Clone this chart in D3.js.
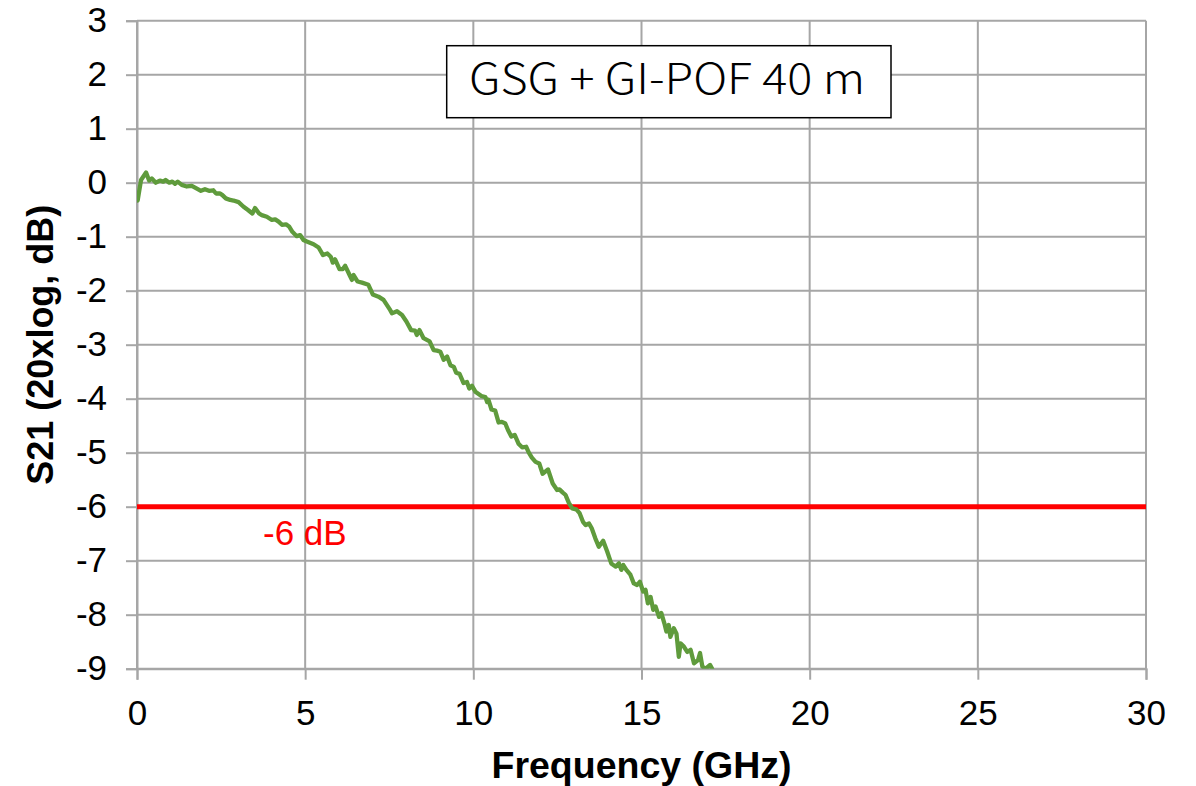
<!DOCTYPE html>
<html>
<head>
<meta charset="utf-8">
<script src="https://cdn.jsdelivr.net/npm/d3@7"></script>
<style>
  html, body { margin: 0; padding: 0; background: #fff; }
  svg { display: block; }
</style>
</head>
<body>
<svg id="chart" width="1196" height="786"></svg>
<script>
// ---- data ----
const freqGHz = [0.02,0.12,0.27,0.36,0.44,0.56,0.68,0.78,0.85,0.96,1.05,1.13,1.21,1.33,1.48,1.63,1.78,1.90,2.02,2.14,2.27,2.35,2.47,2.54,2.64,2.77,2.87,3.02,3.16,3.31,3.43,3.51,3.63,3.71,3.86,4.01,4.11,4.21,4.31,4.43,4.52,4.62,4.75,4.85,4.95,5.05,5.25,5.40,5.53,5.66,5.76,5.82,5.89,6.02,6.12,6.19,6.32,6.39,6.44,6.56,6.69,6.88,7.01,7.18,7.33,7.53,7.58,7.73,7.88,8.01,8.15,8.27,8.32,8.40,8.52,8.70,8.82,8.92,9.02,9.12,9.22,9.32,9.42,9.49,9.59,9.71,9.81,9.88,9.96,10.06,10.24,10.36,10.41,10.45,10.54,10.65,10.75,10.85,10.95,11.03,11.13,11.23,11.35,11.45,11.57,11.65,11.74,11.85,11.96,12.06,12.14,12.22,12.29,12.36,12.49,12.56,12.66,12.74,12.84,12.94,13.06,13.16,13.26,13.34,13.44,13.52,13.63,13.73,13.86,13.98,14.10,14.23,14.33,14.40,14.46,14.55,14.67,14.77,14.87,14.95,15.05,15.12,15.19,15.27,15.35,15.42,15.52,15.59,15.68,15.74,15.81,15.86,15.96,16.04,16.11,16.16,16.26,16.36,16.46,16.56,16.68,16.74,16.81,16.91,17.04,17.10];
const s21dB = [-0.33,0.05,0.19,0.04,0.08,0.00,0.04,0.02,0.05,0.00,0.02,-0.02,0.02,-0.04,-0.07,-0.06,-0.11,-0.15,-0.12,-0.15,-0.14,-0.20,-0.20,-0.23,-0.29,-0.32,-0.33,-0.36,-0.44,-0.51,-0.57,-0.47,-0.57,-0.60,-0.63,-0.69,-0.68,-0.72,-0.78,-0.77,-0.81,-0.91,-0.99,-0.97,-1.06,-1.09,-1.14,-1.20,-1.34,-1.31,-1.37,-1.48,-1.42,-1.60,-1.60,-1.54,-1.71,-1.80,-1.71,-1.83,-1.85,-1.89,-2.07,-2.11,-2.17,-2.36,-2.42,-2.38,-2.45,-2.57,-2.73,-2.74,-2.82,-2.73,-2.88,-2.94,-3.10,-3.11,-3.13,-3.28,-3.22,-3.38,-3.41,-3.52,-3.54,-3.71,-3.69,-3.81,-3.76,-3.87,-3.95,-3.97,-4.06,-4.02,-4.20,-4.22,-4.44,-4.43,-4.46,-4.58,-4.70,-4.67,-4.84,-4.90,-4.89,-5.00,-5.09,-5.17,-5.20,-5.39,-5.35,-5.31,-5.44,-5.57,-5.69,-5.68,-5.74,-5.78,-5.93,-6.03,-6.05,-6.12,-6.28,-6.34,-6.31,-6.40,-6.59,-6.74,-6.63,-6.83,-7.05,-7.11,-7.05,-7.17,-7.08,-7.17,-7.26,-7.42,-7.45,-7.39,-7.57,-7.54,-7.79,-7.67,-7.91,-7.85,-8.04,-7.97,-8.16,-8.31,-8.19,-8.41,-8.25,-8.35,-8.78,-8.53,-8.59,-8.69,-8.65,-8.90,-8.84,-8.71,-8.96,-9.00,-8.93,-9.00];
const xTicks = [0, 5, 10, 15, 20, 25, 30];
const yTicks = [3, 2, 1, 0, -1, -2, -3, -4, -5, -6, -7, -8, -9];
const xDomain = [0, 30];
const yDomain = [-9, 3];
const thresholdDB = -6;
const thresholdLabel = "-6 dB";
const boxLabel = "GSG + GI-POF 40 m";
const xTitle = "Frequency (GHz)";
const yTitle = "S21 (20xlog, dB)";

// ---- layout ----
const L = 137, R = 1146, T = 20.7, B = 668.7;
const svg = d3.select("#chart");
const x = d3.scaleLinear().domain(xDomain).range([L, R]);
const y = d3.scaleLinear().domain(yDomain).range([B, T]);
const grid = "#a6a6a6";
const font = "'Liberation Sans', Arial, sans-serif";
const tickFont = 35;

// gridlines
svg.append("g").selectAll("line.h").data(yTicks).join("line")
  .attr("x1", L).attr("x2", R).attr("y1", d => y(d)).attr("y2", d => y(d))
  .attr("stroke", grid).attr("stroke-width", 2);
svg.append("g").selectAll("line.v").data(xTicks).join("line")
  .attr("x1", d => x(d)).attr("x2", d => x(d)).attr("y1", T).attr("y2", B)
  .attr("stroke", grid).attr("stroke-width", 2);

// axes
const xAxis = d3.axisBottom(x).tickValues(xTicks).tickSize(11).tickPadding(20).tickFormat(d3.format("d"));
const gx = svg.append("g").attr("transform", `translate(0,${B})`).call(xAxis);
gx.select(".domain").attr("stroke", grid).attr("stroke-width", 2);
gx.selectAll(".tick line").attr("stroke", grid).attr("stroke-width", 2);
gx.selectAll(".tick text").attr("font-family", font).attr("font-size", tickFont).attr("fill", "#000");

const yAxis = d3.axisLeft(y).tickValues(yTicks).tickSize(11).tickPadding(19).tickFormat(d3.format("d"));
const gy = svg.append("g").attr("transform", `translate(${L},0)`).call(yAxis);
gy.select(".domain").attr("stroke", grid).attr("stroke-width", 2);
gy.selectAll(".tick line").attr("stroke", grid).attr("stroke-width", 2);
gy.selectAll(".tick text").attr("font-family", font).attr("font-size", tickFont).attr("fill", "#000")
  .text(d => d < 0 ? "-" + Math.abs(d) : d);

// clip
svg.append("clipPath").attr("id", "clip").append("rect")
  .attr("x", L).attr("y", T - 3).attr("width", R - L).attr("height", B - T + 3);

// threshold line
svg.append("line")
  .attr("x1", x(xDomain[0])).attr("x2", x(xDomain[1]))
  .attr("y1", y(thresholdDB)).attr("y2", y(thresholdDB))
  .attr("stroke", "#ff0000").attr("stroke-width", 5);

// data line
const pts = freqGHz.map((f, i) => [f, s21dB[i]]);
svg.append("path").datum(pts)
  .attr("clip-path", "url(#clip)")
  .attr("fill", "none").attr("stroke", "#5f9b3c").attr("stroke-width", 4.3)
  .attr("stroke-linejoin", "round").attr("stroke-linecap", "round")
  .attr("d", d3.line().x(d => x(d[0])).y(d => y(d[1])));

// threshold label
svg.append("text").attr("x", 263).attr("y", 545)
  .attr("font-family", font).attr("font-size", tickFont).attr("fill", "#ff0000")
  .text(thresholdLabel);

// text box
svg.append("rect").attr("x", 446.7).attr("y", 45.7).attr("width", 444.3).attr("height", 72)
  .attr("fill", "#fff").attr("stroke", "#000").attr("stroke-width", 1.5);
svg.append("text").attr("x", 469).attr("y", 94)
  .attr("font-family", "'Noto Sans CJK JP', 'Noto Sans', sans-serif").attr("font-size", 42)
  .attr("font-weight", 300)
  .attr("textLength", 396).attr("lengthAdjust", "spacingAndGlyphs")
  .attr("fill", "#000").text(boxLabel);

// axis titles
svg.append("text").attr("x", (L + R) / 2).attr("y", 778).attr("text-anchor", "middle")
  .attr("font-family", font).attr("font-size", 37.5).attr("font-weight", "bold").attr("fill", "#000")
  .text(xTitle);
svg.append("text").attr("transform", `translate(53,${(T + B) / 2}) rotate(-90)`).attr("text-anchor", "middle")
  .attr("font-family", font).attr("font-size", 36).attr("font-weight", "bold").attr("fill", "#000")
  .text(yTitle);
</script>
</body>
</html>
